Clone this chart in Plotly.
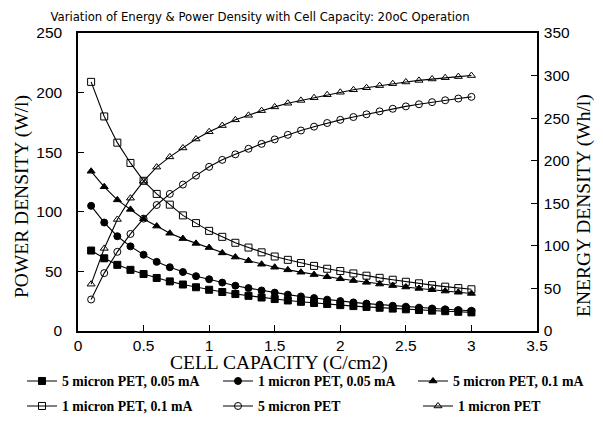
import plotly.graph_objects as go

capacity = [0.1, 0.2, 0.3, 0.4, 0.5, 0.6, 0.7, 0.8, 0.9, 1.0,
            1.1, 1.2, 1.3, 1.4, 1.5, 1.6, 1.7, 1.8, 1.9, 2.0,
            2.1, 2.2, 2.3, 2.4, 2.5, 2.6, 2.7, 2.8, 2.9, 3.0]

# Power density (W/l) - left axis
pd_5um_005 = [67.5, 61, 55.5, 51.3, 47.8, 44.5, 41.6, 39, 36.7, 34.6,
              32.7, 31, 29.5, 28.1, 26.8, 25.6, 24.5, 23.5, 22.6, 21.7,
              20.9, 20.2, 19.5, 18.8, 18.2, 17.6, 17.1, 16.6, 16.1, 15.6]
pd_1um_005 = [105, 91, 79.5, 71, 64, 58, 53.5, 49.5, 46, 43.4,
              40.6, 38, 36, 34, 32.2, 30.5, 29, 27.6, 26.3, 25.1,
              24, 23, 22.1, 21.2, 20.4, 19.6, 18.9, 18.2, 17.6, 17]
pd_5um_01 = [134, 121, 110, 102, 94, 88, 82, 77.5, 73.5, 70,
             65.5, 62, 59, 56, 53.5, 51.3, 49.3, 47.3, 45.5, 43.8,
             42.3, 40.8, 39.4, 38.1, 36.9, 35.7, 34.6, 33.5, 32.5, 31.5]
pd_1um_01 = [209, 180, 158, 141, 126, 115, 106, 97, 90.5, 84,
             79, 74, 70, 66, 62.5, 59.7, 57, 54.6, 52.2, 50.3,
             48.3, 46.4, 44.6, 43, 41.3, 40, 38.5, 37.2, 36, 35]

# Energy density (Wh/l) - right axis
ed_5um = [37, 68, 93, 114, 132, 148, 161, 172, 182.5, 192.8,
          201, 207.5, 214, 219.8, 225, 230.4, 235.5, 240, 244.3, 248,
          251.3, 254.5, 258, 261, 263.8, 266.3, 268.8, 271, 273, 275]
ed_1um = [55, 97, 131, 156, 176, 192.5, 204.5, 215, 225.5, 234,
          241.3, 248, 253.3, 258.8, 263.2, 267.5, 270.8, 274, 277.5, 280.4,
          283.3, 285.7, 288.2, 290.5, 292.5, 294.3, 296, 297.5, 298.8, 300]

names = ["5 micron PET, 0.05 mA", "1 micron PET, 0.05 mA", "5 micron PET, 0.1 mA",
         "1 micron PET, 0.1 mA", "5 micron PET", "1 micron PET"]

series = [
    (names[0], pd_5um_005, "square", "y"),
    (names[1], pd_1um_005, "circle", "y"),
    (names[2], pd_5um_01, "triangle-up", "y"),
    (names[3], pd_1um_01, "square-open", "y"),
    (names[4], ed_5um, "circle-open", "y2"),
    (names[5], ed_1um, "triangle-up-open", "y2"),
]

# The page body has an 8px default margin: lay the figure out in reference
# pixel coordinates shifted by that offset.
OFF = 8
W, H = 603 - OFF, 424 - OFF
# plot area in reference pixels
PL, PR, PT, PB = 78, 537, 33, 331
L, R, T, B = PL - OFF, W - (PR - OFF), PT - OFF, H - (PB - OFF)
pw, ph = W - L - R, H - T - B

def px(xref_px):
    return (xref_px - OFF - L) / pw

def py(yref_px):
    return (H - B - (yref_px - OFF)) / ph

legend_pos = [(22, 381), (218, 381), (413, 381), (22, 406), (218, 406), (418, 406)]
legend_keys = ["legend", "legend2", "legend3", "legend4", "legend5", "legend6"]

fig = go.Figure()
for (name, vals, sym, yax), key in zip(series, legend_keys):
    fig.add_trace(go.Scatter(
        x=capacity, y=vals, name=name, mode="lines+markers", yaxis=yax, legend=key,
        line=dict(color="black", width=1.1),
        marker=dict(symbol=sym, size=7, color="black",
                    line=dict(color="black", width=1)),
    ))

tick_font = dict(family="Liberation Sans, Arial, sans-serif", size=15.5, color="black")
serif = "Liberation Serif, Times New Roman, serif"
legend_font = dict(family=serif, size=13.8, color="black", weight="bold")

layout_legends = {}
for key, (lx, ly) in zip(legend_keys, legend_pos):
    layout_legends[key] = dict(orientation="h", x=px(lx), xanchor="left", y=py(ly),
                               yanchor="middle", font=legend_font,
                               bgcolor="rgba(0,0,0,0)", itemwidth=30)

fig.update_layout(
    width=W, height=H,
    margin=dict(l=L, r=R, t=T, b=B, autoexpand=False),
    paper_bgcolor="white", plot_bgcolor="white",
    showlegend=True,
    title=dict(text="Variation of Energy &amp; Power Density with Cell Capacity: 20oC Operation",
               x=(260 - OFF) / W, xanchor="center", y=1 - (17 - OFF) / H,
               yref="container", yanchor="middle",
               font=dict(family="DejaVu Sans, sans-serif", size=11.7, color="black")),
    xaxis=dict(range=[0, 3.5], dtick=0.5, showgrid=False, zeroline=False,
               showline=True, linecolor="black", linewidth=1.5, mirror=True,
               ticks="inside", ticklen=6, tickcolor="black", tickfont=tick_font,
               ticklabelstandoff=0, automargin=False),
    yaxis=dict(range=[0, 250], dtick=50, showgrid=False, zeroline=False,
               showline=True, linecolor="black", linewidth=1.5,
               ticks="inside", ticklen=6, tickcolor="black", tickfont=tick_font,
               ticklabelstandoff=11, automargin=False),
    yaxis2=dict(range=[0, 350], dtick=50, overlaying="y", side="right",
                showgrid=False, zeroline=False,
                showline=True, linecolor="black", linewidth=1.5,
                ticks="inside", ticklen=6, tickcolor="black", tickfont=tick_font,
                ticklabelstandoff=2, automargin=False),
    **layout_legends,
)

fig.add_annotation(text="CELL CAPACITY (C/cm2)", x=px(279), y=py(351), xref="paper",
                   yref="paper", showarrow=False, xanchor="center", yanchor="top",
                   borderpad=0, font=dict(family=serif, size=19.5, color="black"))
fig.add_annotation(text="POWER DENSITY (W/l)", x=px(22), y=py(197), xref="paper",
                   yref="paper", showarrow=False, xanchor="center", yanchor="middle",
                   textangle=-90, font=dict(family=serif, size=19.5, color="black"))
fig.add_annotation(text="ENERGY DENSITY (Wh/l)", x=px(584), y=py(206), xref="paper",
                   yref="paper", showarrow=False, xanchor="center", yanchor="middle",
                   textangle=-90, font=dict(family=serif, size=19.5, color="black"))

fig.write_html("out.html")
